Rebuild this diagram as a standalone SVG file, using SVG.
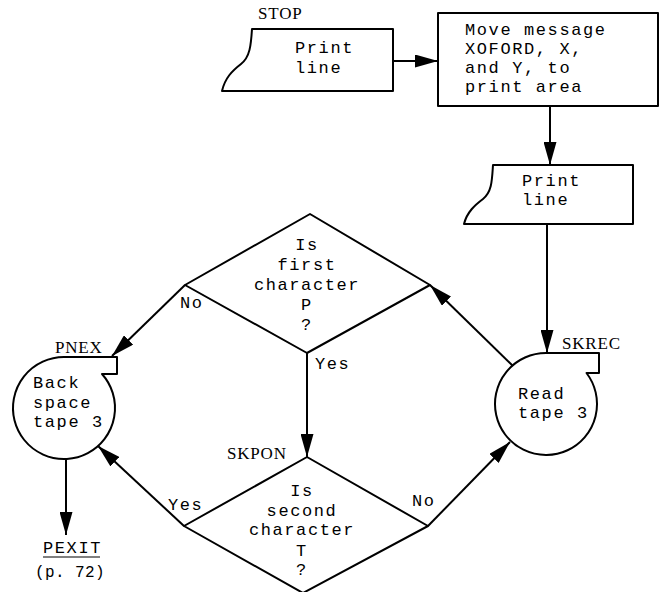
<svg xmlns="http://www.w3.org/2000/svg" width="664" height="592" viewBox="0 0 664 592">
  <style>
    .shape { fill: #fff; stroke: #000; stroke-width: 2; stroke-linejoin: round; }
    .edge { fill: none; stroke: #000; stroke-width: 2; marker-end: url(#head); }
    .t { font-family: "Liberation Mono", "DejaVu Sans Mono", monospace; font-size: 17px; letter-spacing: 1.6px; fill: #000; }
    .c { text-anchor: middle; }
    .lbl { font-family: "Liberation Serif", "DejaVu Serif", serif; font-size: 17px; letter-spacing: 0.8px; fill: #000; }
    .small { font-size: 16px; letter-spacing: 0.4px; }
  </style>
  <defs>
    <marker id="head" viewBox="0 0 23 13" refX="23" refY="6.5" markerWidth="23" markerHeight="13" markerUnits="userSpaceOnUse" orient="auto">
      <path d="M0,0 L23,6.5 L0,13 Z" fill="#000"/>
    </marker>
  </defs>
  <rect width="664" height="592" fill="#fff"/>

  <!-- connectors -->
  <g id="connectors">
    <path class="edge" d="M393,61 H438"/>
    <path class="edge" d="M550,106 V165"/>
    <path class="edge" d="M547,224 V353"/>
    <path class="edge" d="M513,366 L430,285"/>
    <path class="edge" d="M185,285 L112,356"/>
    <path class="edge" d="M307,353 V457"/>
    <path class="edge" d="M184,526 L98,446"/>
    <path class="edge" d="M428,526 L510,442"/>
    <path class="edge" d="M66,459 V535"/>
  </g>

  <!-- STOP: print line -->
  <g id="stop">
    <path class="shape" d="M252,29 H393 V91 H222 C225,78 232,71 241,64 C250,57 251,45 252,29 Z"/>
    <text class="lbl" x="258" y="19">STOP</text>
    <text class="t" x="295" y="53">Print</text>
    <text class="t" x="295" y="73">line</text>
  </g>

  <!-- move message to print area -->
  <g id="move-message">
    <rect class="shape" x="438" y="13" width="220" height="93"/>
    <text class="t" x="465" y="35">Move message</text>
    <text class="t" x="465" y="54">XOFORD, X,</text>
    <text class="t" x="465" y="73">and Y, to</text>
    <text class="t" x="465" y="92">print area</text>
  </g>

  <!-- second print line -->
  <g id="print-line-2">
    <path class="shape" d="M493,165 H633 V224 H464 C467,212 475,205 483,199 C492,192 492,180 493,165 Z"/>
    <text class="t" x="522" y="186">Print</text>
    <text class="t" x="522" y="205">line</text>
  </g>

  <!-- SKREC: read tape 3 -->
  <g id="skrec">
    <path class="shape" d="M546,353 H599 V373 H586.5 A51,51 0 1 1 546,353 Z"/>
    <text class="lbl" x="562" y="349">SKREC</text>
    <text class="t" x="518" y="399">Read</text>
    <text class="t" x="518" y="418">tape 3</text>
  </g>

  <!-- decision: first character P -->
  <g id="first-char">
    <path class="shape" d="M310,214 L430,285 L307,353 L185,285 Z"/>
    <text class="t c" x="307" y="250">Is</text>
    <text class="t c" x="307" y="270">first</text>
    <text class="t c" x="307" y="290">character</text>
    <text class="t c" x="307" y="310">P</text>
    <text class="t c" x="307" y="330">?</text>
    <text class="t" x="180" y="308">No</text>
    <text class="t" x="315" y="369">Yes</text>
  </g>

  <!-- PNEX: back space tape 3 -->
  <g id="pnex">
    <path class="shape" d="M64,357 H117 V374 H102 A51,51 0 1 1 64,357 Z"/>
    <text class="lbl" x="55" y="353">PNEX</text>
    <text class="t" x="33" y="388">Back</text>
    <text class="t" x="33" y="408">space</text>
    <text class="t" x="33" y="427">tape 3</text>
  </g>

  <!-- SKPON: second character T -->
  <g id="skpon">
    <path class="shape" d="M307,457 L428,526 L303,593 L184,526 Z"/>
    <text class="lbl" x="227" y="459">SKPON</text>
    <text class="t c" x="302" y="496">Is</text>
    <text class="t c" x="302" y="516">second</text>
    <text class="t c" x="302" y="535">character</text>
    <text class="t c" x="302" y="556">T</text>
    <text class="t c" x="302" y="575">?</text>
    <text class="t" x="168" y="510">Yes</text>
    <text class="t" x="412" y="506">No</text>
  </g>

  <!-- exit reference -->
  <g id="pexit">
    <text class="t" x="43" y="553">PEXIT</text>
    <line x1="43" y1="557" x2="100" y2="557" stroke="#000" stroke-width="1.2"/>
    <text class="t small" x="35" y="577">(p. 72)</text>
  </g>
</svg>
